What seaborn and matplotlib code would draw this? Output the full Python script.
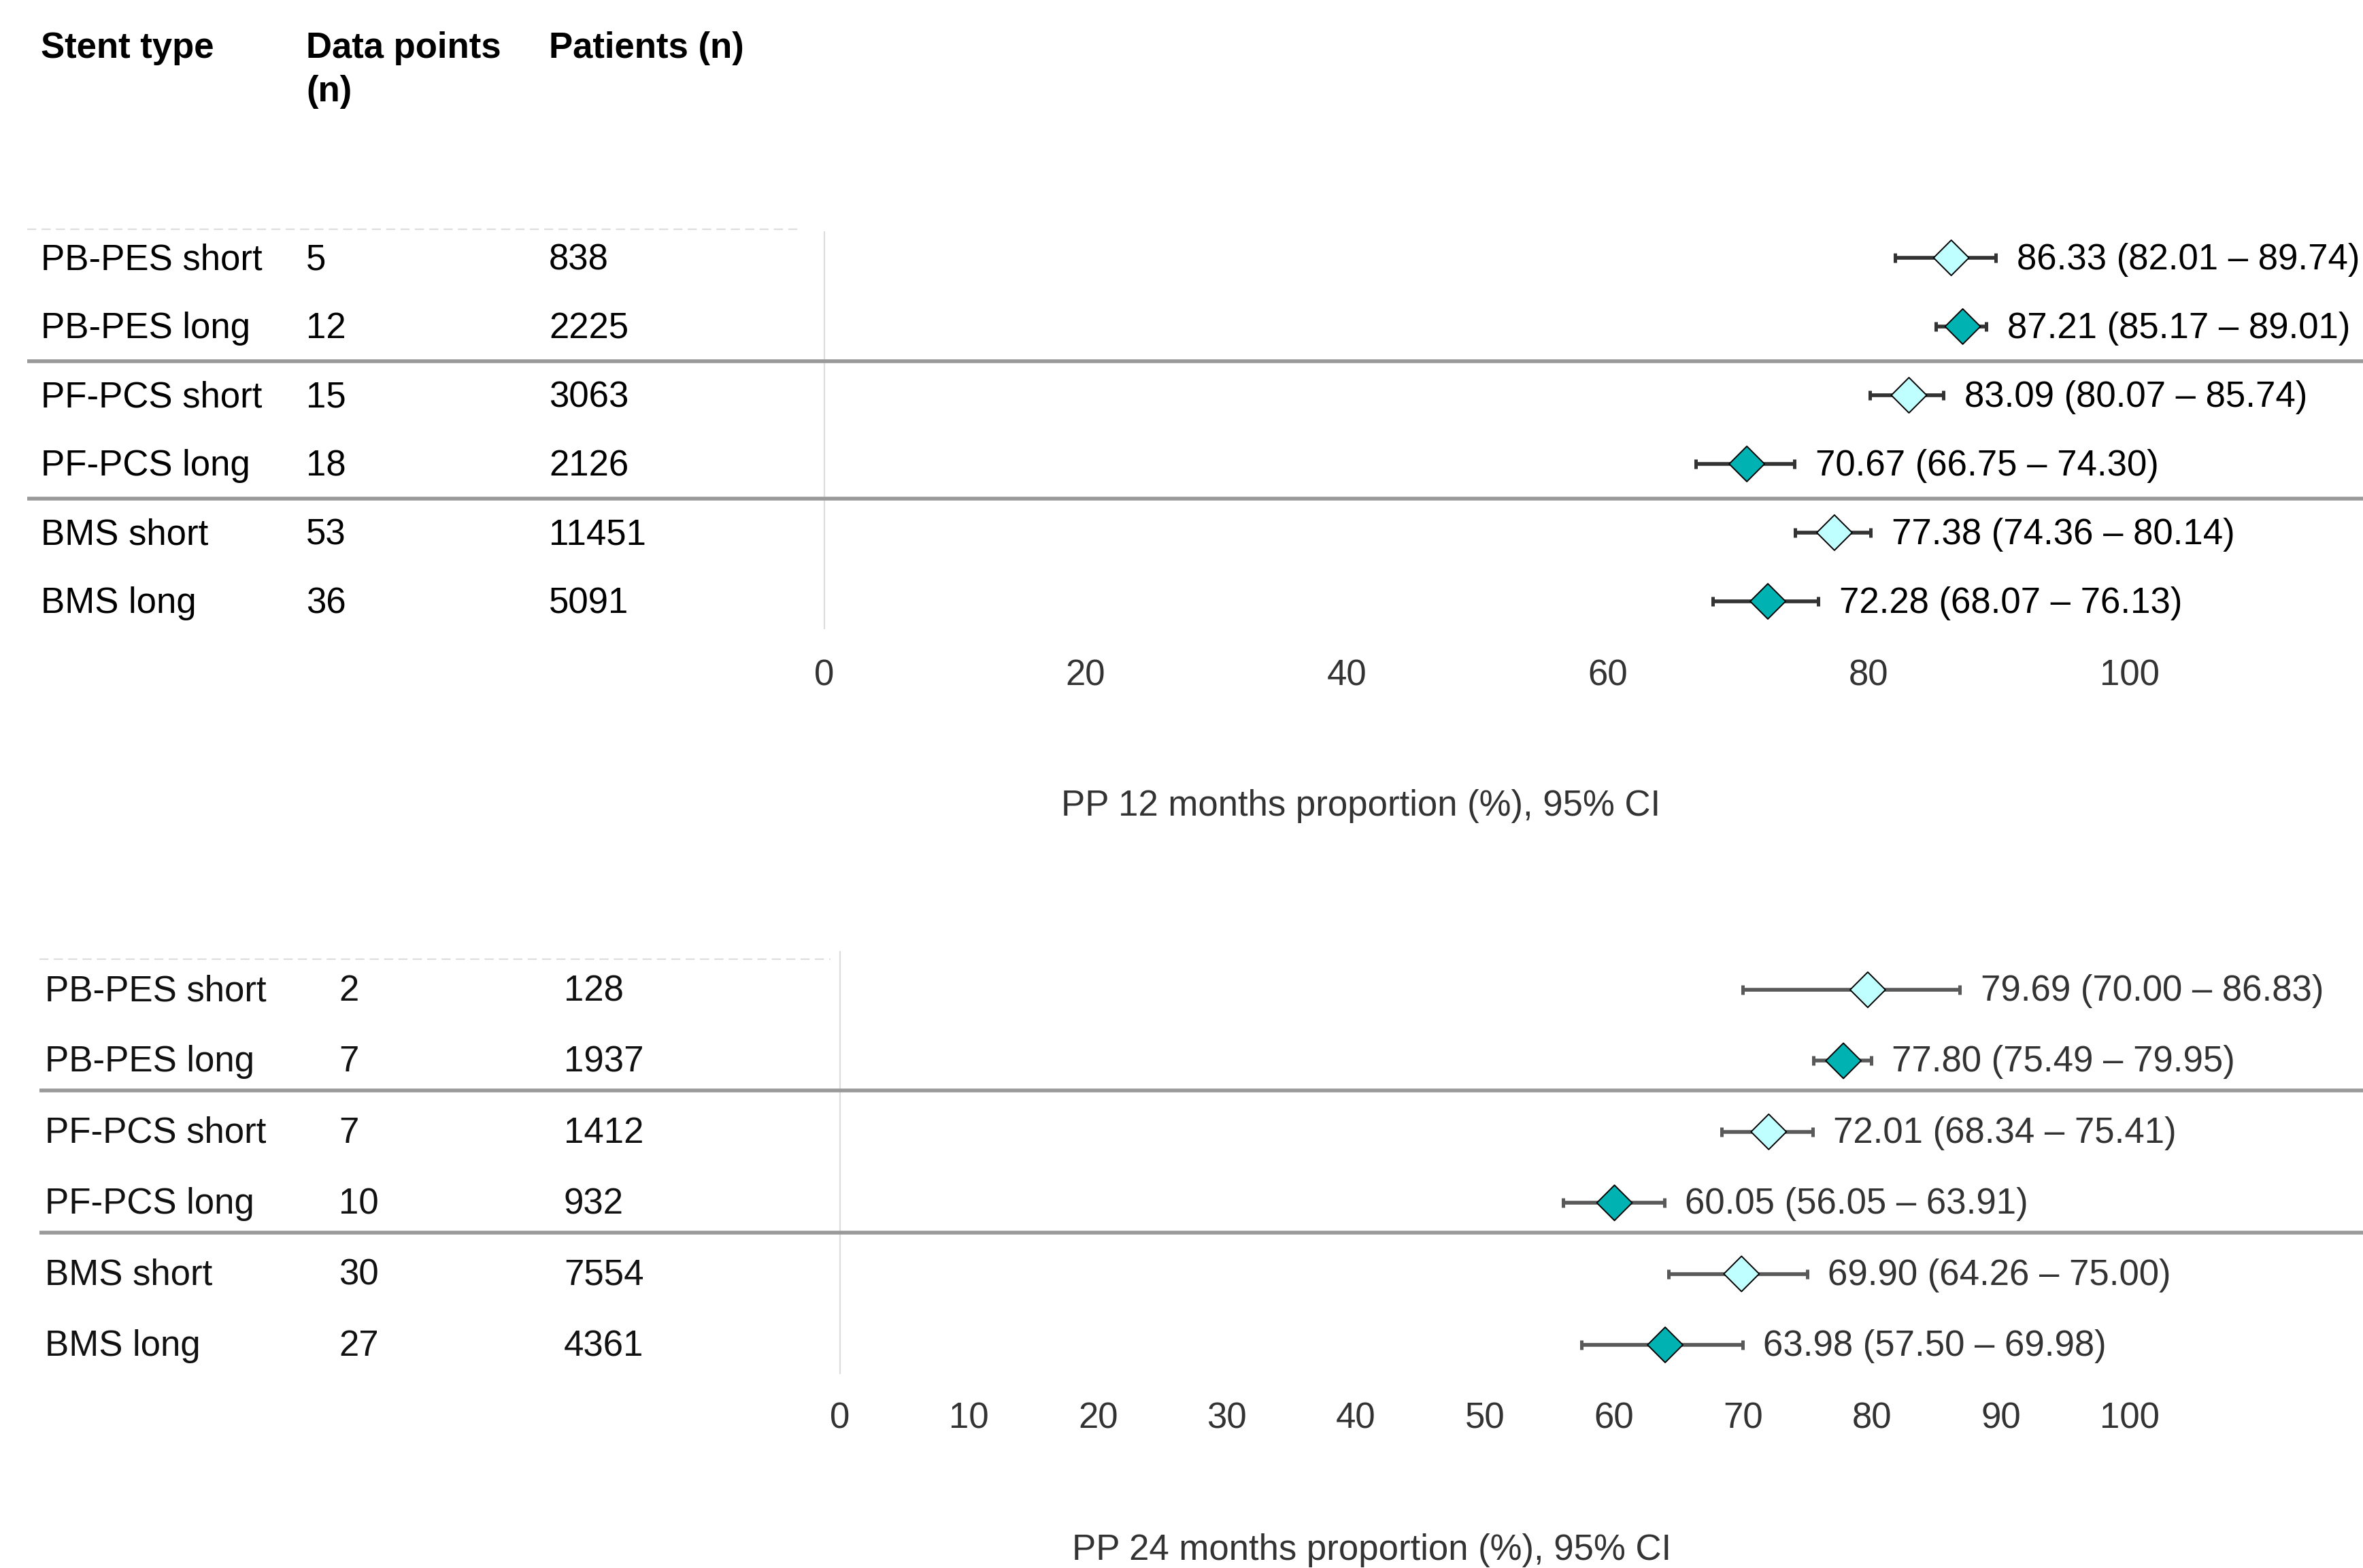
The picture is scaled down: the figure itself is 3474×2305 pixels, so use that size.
import matplotlib
matplotlib.use("Agg")
import matplotlib.pyplot as plt
import seaborn as sns
import pandas as pd

# table + forest data
stent_type = ["PB-PES short", "PB-PES long", "PF-PCS short", "PF-PCS long", "BMS short", "BMS long"]
length = ["short", "long", "short", "long", "short", "long"]

points_12 = [5, 12, 15, 18, 53, 36]
patients_12 = [838, 2225, 3063, 2126, 11451, 5091]
est_12 = [86.33, 87.21, 83.09, 70.67, 77.38, 72.28]
lo_12 = [82.01, 85.17, 80.07, 66.75, 74.36, 68.07]
hi_12 = [89.74, 89.01, 85.74, 74.30, 80.14, 76.13]

points_24 = [2, 7, 7, 10, 30, 27]
patients_24 = [128, 1937, 1412, 932, 7554, 4361]
est_24 = [79.69, 77.80, 72.01, 60.05, 69.90, 63.98]
lo_24 = [70.00, 75.49, 68.34, 56.05, 64.26, 57.50]
hi_24 = [86.83, 79.95, 75.41, 63.91, 75.00, 69.98]

ticks_12 = [0, 20, 40, 60, 80, 100]
ticks_24 = [0, 10, 20, 30, 40, 50, 60, 70, 80, 90, 100]
headers = ["Stent type", "Data points\n(n)", "Patients (n)"]

W, H, DPI = 3474, 2305, 200
FS = 19

sns.set_theme(style="white")
plt.rcParams["font.family"] = ["Liberation Sans", "DejaVu Sans"]

fig = plt.figure(figsize=(W / DPI, H / DPI), dpi=DPI)


def draw_panel(cfg, est, lo, hi, points, patients, ticks, xlabel):
    scale = (cfg["hundred_px"] - cfg["zero_px"]) / 100.0
    xd = lambda px: (px - cfg["zero_px"]) / scale
    yd = lambda py: (py - cfg["row0_px"]) / cfg["row_h"]

    ax = fig.add_axes([cfg["left_px"] / W, 1 - cfg["ax_bot"] / H,
                       (W - cfg["left_px"]) / W, (cfg["ax_bot"] - cfg["ax_top"]) / H])
    ax.set_xlim(xd(cfg["left_px"]), xd(W))
    ax.set_ylim(yd(cfg["ax_bot"]), yd(cfg["ax_top"]))

    df = pd.DataFrame({"est": est, "lo": lo, "hi": hi, "row": range(len(est)),
                       "length": length})

    ax.axvline(0, color="#dddddd", lw=0.8, zorder=1)
    for s in cfg["seps"]:
        ax.axhline(s, color="#999999", lw=2.0, zorder=1)
    ax.plot([xd(cfg["left_px"]), xd(cfg["dash_end"])], [yd(cfg["dash_y"])] * 2,
            color="#dddddd", lw=0.8, ls=(0, (6, 3.5)), clip_on=False)

    ax.errorbar(df["est"], df["row"], xerr=[df["est"] - df["lo"], df["hi"] - df["est"]],
                fmt="none", ecolor=cfg["bar_color"], elinewidth=2.0, capsize=2.4,
                capthick=1.8, zorder=2)
    sns.scatterplot(data=df, x="est", y="row", hue="length",
                    palette={"short": "#BFFFFF", "long": "#00B2B2"},
                    marker="D", s=175, edgecolor="black", linewidth=0.7,
                    legend=False, zorder=3, ax=ax)

    dy = cfg["text_dy"]
    for i, row in df.iterrows():
        ax.text(row["hi"] + 1.6, row["row"] + dy,
                f"{row['est']:.2f} ({row['lo']:.2f} \u2013 {row['hi']:.2f})",
                ha="left", va="center", fontsize=FS, color=cfg["val_color"])
        vals = [stent_type[i], str(points[i]), str(patients[i])]
        for cx, v in zip(cfg["cols"], vals):
            ax.text(xd(cx), row["row"] + dy, v, ha="left", va="center",
                    fontsize=FS, color=cfg["tab_color"])

    ax.set_xticks(ticks)
    ax.set_yticks([])
    ax.tick_params(axis="x", length=0, pad=cfg["pad"], labelsize=FS, labelcolor="#333333")
    ax.set_xlabel("")
    ax.set_ylabel("")
    for sp in ax.spines.values():
        sp.set_visible(False)
    ax.set_facecolor("none")

    fig.text(cfg["xlab"][0] / W, 1 - cfg["xlab"][1] / H, xlabel, ha="center",
             va="center", fontsize=FS, color="#333333")
    return ax


top = dict(left_px=40, zero_px=1212, hundred_px=3131, row0_px=379, row_h=101,
           ax_top=340, ax_bot=925, seps=[1.5, 3.5], dash_y=337, dash_end=1174,
           cols=[60, 450, 807], bar_color="#333333", val_color="black",
           tab_color="black", pad=15.5, xlab=(2001, 1185), text_dy=0.03)
bottom = dict(left_px=58, zero_px=1235, hundred_px=3131, row0_px=1455, row_h=104.4,
              ax_top=1398, ax_bot=2020, seps=[1.42, 3.42], dash_y=1410, dash_end=1221,
              cols=[66, 498, 829], bar_color="#595959", val_color="#333333",
              tab_color="#111111", pad=14.5, xlab=(2017, 2279), text_dy=0.02)

draw_panel(top, est_12, lo_12, hi_12, points_12, patients_12, ticks_12,
           "PP 12 months proportion (%), 95% CI")
draw_panel(bottom, est_24, lo_24, hi_24, points_24, patients_24, ticks_24,
           "PP 24 months proportion (%), 95% CI")

# column headers
for cx, h in zip(top["cols"], headers):
    fig.text(cx / W, 1 - 46 / H, h, ha="left", va="top", fontsize=FS,
             fontweight="bold", color="black", linespacing=1.35)

fig.savefig("out.png", dpi=DPI)
